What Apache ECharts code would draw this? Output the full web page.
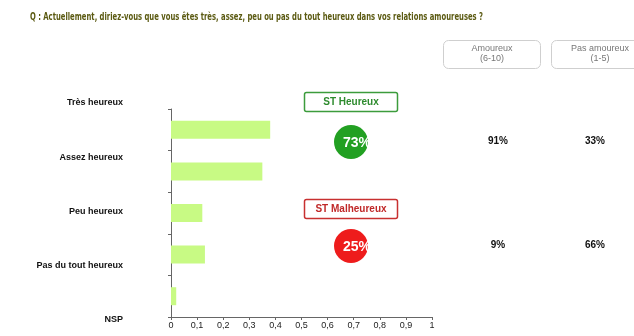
<!DOCTYPE html>
<html><head><meta charset="utf-8">
<script src="https://cdn.jsdelivr.net/npm/echarts@6/dist/echarts.min.js"></script>
<style>html,body{margin:0;padding:0;background:#fff}#c{width:634px;height:336px}</style>
</head><body><div id="c"></div>
<script>
const title = "Q : Actuellement, diriez-vous que vous êtes très, assez, peu ou pas du tout heureux dans vos relations amoureuses ?";
const categories = ["Très heureux", "Assez heureux", "Peu heureux", "Pas du tout heureux", "NSP"];
const values = [0.38, 0.35, 0.12, 0.13, 0.02];
const groupNames = ["ST Heureux", "ST Malheureux"];
const groupTotals = ["73%", "25%"];
const columnHeaders = ["Amoureux\n(6-10)", "Pas amoureux\n(1-5)"];
const amoureux = ["91%", "9%"];
const pasAmoureux = ["33%", "66%"];

const font = "'Liberation Sans', Arial, sans-serif";
const titleFont = "bold 10.5px 'DejaVu Sans', sans-serif";
const groupColors = [{border:'#3c9c3c', text:'#2e8b2e', fill:'#22a022'}, {border:'#c83030', text:'#c02828', fill:'#ee1c1c'}];
const boxY = [92, 199];
const rowY = [141, 245];

const ctx = document.createElement('canvas').getContext('2d');
ctx.font = titleFont;
const titleScale = 453 / ctx.measureText(title).width;

const graphic = [];
graphic.push({type:'text', x:30, y:17, scaleX:titleScale, originX:0,
  style:{text:title, font:titleFont, fill:'#5b5a12', verticalAlign:'middle'}});
const hdrX = [443, 551];
columnHeaders.forEach((h,i)=>{
  graphic.push({type:'rect', shape:{x:hdrX[i]+0.5, y:40.5, width:97, height:28, r:5}, style:{fill:'#fff', stroke:'#cfcfcf', lineWidth:1}});
  graphic.push({type:'text', x:hdrX[i]+49, y:54, style:{text:h, font:"9px "+font, fill:'#777', align:'center', verticalAlign:'middle', lineHeight:10}});
});
groupNames.forEach((g,i)=>{
  const c = groupColors[i];
  graphic.push({type:'rect', shape:{x:304.5, y:boxY[i]+0.5, width:93, height:19, r:2}, style:{fill:'#fff', stroke:c.border, lineWidth:1.5}});
  graphic.push({type:'text', x:351, y:boxY[i]+10, style:{text:g, font:"bold 10px "+font, fill:c.text, align:'center', verticalAlign:'middle'}});
  graphic.push({type:'circle', shape:{cx:351, cy:rowY[i]+1, r:17}, style:{fill:c.fill}});
  graphic.push({type:'text', x:357, y:rowY[i]+2, style:{text:groupTotals[i], font:"bold 14px "+font, fill:'#fff', align:'center', verticalAlign:'middle'}});
  graphic.push({type:'text', x:498, y:rowY[i], style:{text:amoureux[i], font:"bold 10px "+font, fill:'#111', align:'center', verticalAlign:'middle'}});
  graphic.push({type:'text', x:595, y:rowY[i], style:{text:pasAmoureux[i], font:"bold 10px "+font, fill:'#111', align:'center', verticalAlign:'middle'}});
});

const chart = echarts.init(document.getElementById('c'));
chart.setOption({
  animation:false,
  grid:[
    {left:171, top:109, width:261, height:208},
    {left:128, top:103, width:1, height:217}
  ],
  xAxis:[
    {gridIndex:0, type:'value', min:0, max:1, interval:0.1, splitLine:{show:false},
     axisLine:{show:true, lineStyle:{color:'#666'}}, axisTick:{show:true, length:3, lineStyle:{color:'#666'}},
     axisLabel:{fontSize:9, fontFamily:font, color:'#222', margin:4,
       formatter:v=>String(Math.round(v*10)/10).replace('.',',')}},
    {gridIndex:1, type:'value', show:false}
  ],
  yAxis:[
    {gridIndex:0, type:'category', data:categories, inverse:true,
     axisLine:{show:true, lineStyle:{color:'#666'}}, axisTick:{show:true, length:3, lineStyle:{color:'#666'}},
     axisLabel:{show:false}},
    {gridIndex:1, type:'category', data:categories, inverse:true, boundaryGap:false,
     axisLine:{show:false}, axisTick:{show:false},
     axisLabel:{show:true, fontSize:9, fontWeight:'bold', fontFamily:font, color:'#111', margin:5}}
  ],
  series:[
    {type:'bar', xAxisIndex:0, yAxisIndex:0, data:values, barWidth:18,
     itemStyle:{color:'#c8fa84'}}
  ],
  graphic:graphic
});
</script></body></html>
